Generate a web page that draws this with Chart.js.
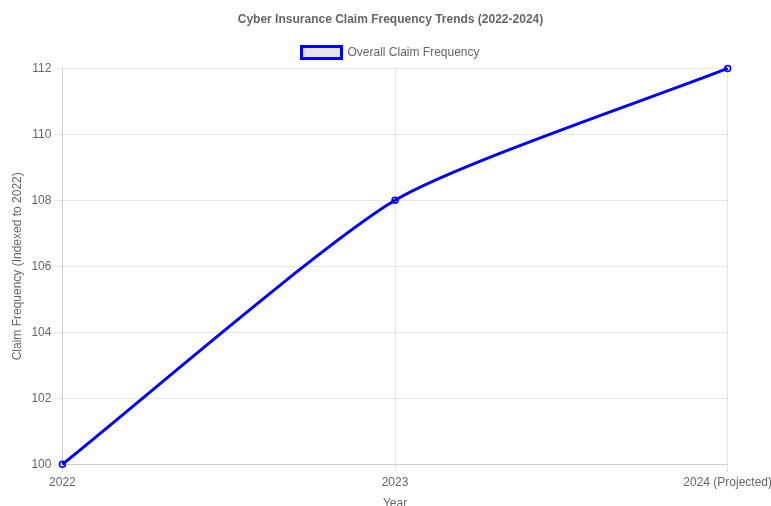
<!DOCTYPE html>
<html>
<head>
<meta charset="utf-8">
<script src="https://cdn.jsdelivr.net/npm/chart.js@4"></script>
<style>
  body { margin: 0; overflow: hidden; font-family: Arial, "Liberation Sans", sans-serif; }
  #wrap { width: 775px; height: 515px; }
</style>
</head>
<body>
<div id="wrap"><canvas id="claimChart"></canvas></div>
<script>
// Claim frequency, indexed to 2022 = 100
var years = ['2022', '2023', '2024 (Projected)'];
var claimIndex = [100, 108, 112];

Chart.defaults.font.family = 'Arial, "Liberation Sans", sans-serif';

var ctx = document.getElementById('claimChart').getContext('2d');
var chart = new Chart(ctx, {
    type: 'line',
    data: {
        labels: years,
        datasets: [{
            label: 'Overall Claim Frequency',
            data: claimIndex,
            borderColor: 'blue',
            borderWidth: 3,
            tension: 0.2,
            pointRadius: 3,
            pointBorderWidth: 1.5,
            fill: false
        }]
    },
    options: {
        responsive: true,
        maintainAspectRatio: false,
        animation: false,
        layout: {
            padding: { left: 6, top: 2 }
        },
        plugins: {
            title: {
                display: true,
                text: 'Cyber Insurance Claim Frequency Trends (2022-2024)',
                font: { size: 12, weight: 'bold' }
            }
        },
        scales: {
            x: {
                title: { display: true, text: 'Year' }
            },
            y: {
                title: { display: true, text: 'Claim Frequency (Indexed to 2022)' },
                ticks: { stepSize: 2 }
            }
        }
    }
});
</script>
</body>
</html>
